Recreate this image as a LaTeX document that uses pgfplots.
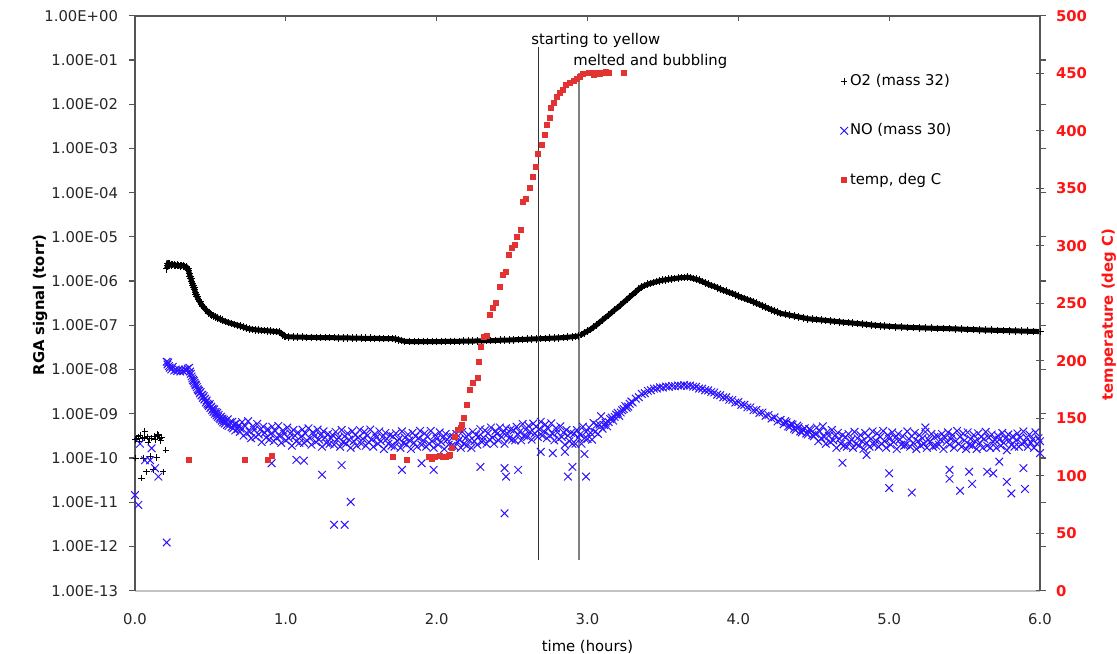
\documentclass[border=0pt]{standalone}
\usepackage{fontspec}
\setmainfont{DejaVu Sans}
\usepackage{pgfplots}
\pgfplotsset{compat=1.18}
\definecolor{nob}{RGB}{45,20,255}
\definecolor{tempr}{RGB}{226,50,50}
\definecolor{labr}{RGB}{255,20,20}
\definecolor{axg}{RGB}{85,85,85}
\definecolor{axlg}{RGB}{195,195,195}
\newcommand{\fs}{\fontsize{7.4}{9}\selectfont}

\begin{document}
\begin{tikzpicture}
\begin{axis}[
  scale only axis, width=452.5pt, height=287.5pt,
  at={(0,0)}, anchor=south west, clip=false,
  xmin=0, xmax=6, ymode=log, ymin=1e-13, ymax=1,
  axis line style={draw=none},
  xtick={0,1,2,3,4,5,6},
  xticklabels={0.0,1.0,2.0,3.0,4.0,5.0,6.0},
  x tick style={draw=none},
  xticklabel shift=5pt,
  ytick={1e-13,1e-12,1e-11,1e-10,1e-9,1e-8,1e-7,1e-6,1e-5,1e-4,1e-3,1e-2,1e-1,1},
  yticklabels={1.00E-13,1.00E-12,1.00E-11,1.00E-10,1.00E-09,1.00E-08,1.00E-07,1.00E-06,1.00E-05,1.00E-04,1.00E-03,1.00E-02,1.00E-01,1.00E+00},
  yminorticks=false,
  yticklabel shift=2pt,
  tick align=outside, major tick length=3pt,
  every tick/.style={axg, line width=0.6pt},
  tick label style={font=\fs, text=black!85},
  xlabel={time (hours)},
  xlabel style={font=\fs, at={(rel axis cs:0.5,-0.097)}, anchor=center},
  ylabel={RGA signal (torr)},
  ylabel style={font=\fs\bfseries, at={(rel axis cs:-0.105,0.497)}, anchor=center},
  legend style={at={(rel axis cs:0.779,0.902)}, anchor=north west, draw=none, fill=none,
    font=\fs, row sep=15.5pt, inner sep=0pt, nodes={inner sep=1pt}},
  legend cell align=left,
  legend image code/.code={\draw[#1] plot coordinates {(0pt,0pt)};},
]
% O2, mass 32: scattered start
\addplot[only marks, mark=+, mark size=1.6pt, black, mark options={line width=0.5pt}] coordinates {
(0.000,2.6e-10)(0.005,1.0e-10)(0.012,2.8e-10)(0.020,3.0e-10)(0.028,2.4e-10)(0.035,3.3e-10)
(0.044,3.5e-11)(0.050,2.7e-10)(0.055,1.0e-10)(0.060,2.9e-10)(0.066,4.0e-10)(0.077,4.9e-11)
(0.082,3.0e-10)(0.088,2.3e-10)(0.095,2.7e-10)(0.100,1.1e-10)(0.110,2.8e-10)(0.120,5.4e-11)
(0.127,3.1e-10)(0.133,2.6e-10)(0.144,1.02e-10)(0.150,3.4e-10)(0.155,3.2e-10)(0.165,2.8e-10)
(0.172,2.5e-10)(0.177,2.9e-10)(0.187,4.9e-11)(0.205,1.5e-10)};
\addlegendentry{O2 (mass 32)}
% O2 main trace
\addplot[forget plot, black, line width=2.5pt, mark=+, mark size=1.9pt, mark options={line width=0.5pt}] coordinates {
(0.210,1.9e-6)(0.215,2.2e-6)(0.220,2.5e-6)(0.230,2.4e-6)(0.240,2.3e-6)(0.250,2.35e-6)(0.260,2.3e-6)
(0.270,2.25e-6)(0.280,2.3e-6)(0.290,2.25e-6)(0.300,2.2e-6)(0.310,2.25e-6)(0.320,2.2e-6)(0.330,2.15e-6)
(0.340,2.1e-6)(0.350,1.9e-6)(0.355,1.7e-6)(0.360,1.5e-6)(0.365,1.3e-6)(0.370,1.15e-6)(0.375,1.0e-6)
(0.380,9.0e-7)(0.385,8.0e-7)(0.390,7.2e-7)(0.395,6.3e-7)(0.400,5.6e-7)(0.405,5.0e-7)(0.410,4.5e-7)
(0.420,3.9e-7)(0.430,3.4e-7)(0.440,3.0e-7)(0.450,2.7e-7)(0.460,2.45e-7)(0.470,2.25e-7)(0.480,2.05e-7)
(0.490,1.9e-7)(0.500,1.8e-7)(0.510,1.72e-7)(0.520,1.65e-7)(0.535,1.55e-7)(0.550,1.45e-7)(0.565,1.37e-7)
(0.580,1.3e-7)(0.600,1.22e-7)(0.620,1.15e-7)(0.640,1.1e-7)(0.660,1.05e-7)(0.680,1.0e-7)(0.700,9.6e-8)
(0.720,9.1e-8)(0.740,8.6e-8)(0.760,8.3e-8)(0.780,8.1e-8)(0.800,7.9e-8)(0.820,7.8e-8)(0.840,7.7e-8)
(0.860,7.6e-8)(0.880,7.5e-8)(0.900,7.4e-8)(0.920,7.3e-8)(0.940,7.2e-8)(0.960,7.0e-8)(0.970,6.6e-8)
(0.980,6.1e-8)(0.990,5.8e-8)(1.000,5.6e-8)(1.02,5.5e-8)(1.05,5.45e-8)(1.08,5.4e-8)(1.11,5.4e-8)
(1.14,5.35e-8)(1.17,5.35e-8)(1.20,5.3e-8)(1.23,5.3e-8)(1.26,5.3e-8)(1.29,5.25e-8)(1.32,5.25e-8)
(1.35,5.2e-8)(1.38,5.2e-8)(1.41,5.2e-8)(1.44,5.15e-8)(1.47,5.15e-8)(1.50,5.1e-8)(1.53,5.1e-8)
(1.56,5.1e-8)(1.59,5.05e-8)(1.62,5.05e-8)(1.65,5.0e-8)(1.68,5.0e-8)(1.71,5.0e-8)(1.73,4.9e-8)
(1.75,4.7e-8)(1.77,4.5e-8)(1.79,4.35e-8)(1.82,4.3e-8)(1.85,4.3e-8)(1.88,4.3e-8)(1.91,4.3e-8)
(1.94,4.3e-8)(1.97,4.3e-8)(2.00,4.3e-8)(2.03,4.3e-8)(2.06,4.35e-8)(2.09,4.35e-8)(2.12,4.35e-8)
(2.15,4.35e-8)(2.18,4.4e-8)(2.21,4.4e-8)(2.24,4.4e-8)(2.27,4.45e-8)(2.30,4.45e-8)(2.33,4.5e-8)
(2.36,4.5e-8)(2.39,4.55e-8)(2.42,4.6e-8)(2.45,4.6e-8)(2.48,4.65e-8)(2.51,4.7e-8)(2.54,4.75e-8)
(2.57,4.8e-8)(2.60,4.85e-8)(2.63,4.9e-8)(2.66,4.95e-8)(2.69,5.0e-8)(2.72,5.05e-8)(2.75,5.1e-8)
(2.78,5.15e-8)(2.81,5.2e-8)(2.84,5.3e-8)(2.87,5.4e-8)(2.90,5.5e-8)(2.92,5.6e-8)(2.94,5.75e-8)
(2.96,6.2e-8)(2.98,6.8e-8)(3.00,7.4e-8)(3.02,8.1e-8)(3.04,9.1e-8)(3.06,1.02e-7)(3.08,1.17e-7)
(3.10,1.32e-7)(3.12,1.51e-7)(3.14,1.70e-7)(3.16,1.95e-7)(3.18,2.24e-7)(3.20,2.51e-7)(3.22,2.88e-7)
(3.24,3.31e-7)(3.26,3.80e-7)(3.28,4.37e-7)(3.30,5.01e-7)(3.32,5.75e-7)(3.34,6.61e-7)(3.36,7.41e-7)
(3.38,7.94e-7)(3.40,8.51e-7)(3.42,8.91e-7)(3.44,9.33e-7)(3.46,9.77e-7)(3.48,1.02e-6)(3.50,1.05e-6)
(3.52,1.07e-6)(3.54,1.10e-6)(3.56,1.12e-6)(3.58,1.15e-6)(3.60,1.17e-6)(3.62,1.20e-6)(3.64,1.20e-6)
(3.66,1.23e-6)(3.68,1.20e-6)(3.70,1.15e-6)(3.72,1.10e-6)(3.74,1.05e-6)(3.76,9.77e-7)(3.78,9.12e-7)
(3.80,8.51e-7)(3.82,7.94e-7)(3.84,7.59e-7)(3.86,7.08e-7)(3.88,6.61e-7)(3.90,6.17e-7)(3.92,5.89e-7)
(3.94,5.50e-7)(3.96,5.25e-7)(3.98,4.90e-7)(4.00,4.57e-7)(4.02,4.27e-7)(4.04,4.07e-7)(4.06,3.80e-7)
(4.08,3.63e-7)(4.10,3.39e-7)(4.12,3.16e-7)(4.14,2.95e-7)(4.16,2.75e-7)(4.18,2.57e-7)(4.20,2.40e-7)
(4.22,2.24e-7)(4.24,2.09e-7)(4.26,2.00e-7)(4.28,1.86e-7)(4.31,1.78e-7)(4.34,1.70e-7)(4.37,1.62e-7)
(4.40,1.55e-7)(4.43,1.48e-7)(4.46,1.41e-7)(4.49,1.38e-7)(4.52,1.35e-7)(4.55,1.32e-7)(4.58,1.29e-7)
(4.61,1.26e-7)(4.64,1.23e-7)(4.67,1.20e-7)(4.70,1.17e-7)(4.73,1.15e-7)(4.76,1.12e-7)(4.79,1.10e-7)
(4.82,1.07e-7)(4.85,1.05e-7)(4.88,1.02e-7)(4.91,1.00e-7)(4.94,9.8e-8)(4.97,9.6e-8)(5.00,9.5e-8)
(5.04,9.3e-8)(5.08,9.2e-8)(5.12,9.0e-8)(5.16,8.9e-8)(5.20,8.8e-8)(5.24,8.7e-8)(5.28,8.6e-8)
(5.32,8.55e-8)(5.36,8.5e-8)(5.40,8.4e-8)(5.44,8.3e-8)(5.48,8.2e-8)(5.52,8.1e-8)(5.56,8.0e-8)
(5.60,7.9e-8)(5.64,7.8e-8)(5.68,7.75e-8)(5.72,7.7e-8)(5.76,7.6e-8)(5.80,7.55e-8)(5.84,7.5e-8)
(5.88,7.4e-8)(5.92,7.35e-8)(5.96,7.3e-8)(6.00,7.2e-8)};
% NO, mass 30
\addplot[only marks, mark=x, mark size=2.7pt, nob, mark options={line width=0.5pt}] coordinates {
(0.210,1.5e-8)(0.215,1.3e-8)(0.220,1.45e-8)(0.225,1.2e-8)(0.230,1.1e-8)(0.240,1.0e-8)(0.250,1.15e-8)
(0.260,9.5e-9)(0.270,1.0e-8)(0.280,9.3e-9)(0.290,1.0e-8)(0.300,9.0e-9)(0.310,9.8e-9)(0.320,9.2e-9)
(0.330,1.0e-8)(0.340,9.6e-9)(0.350,1.05e-8)(0.360,1.1e-8)(0.365,9.0e-9)(0.370,8.0e-9)(0.375,7.0e-9)
(0.380,6.3e-9)(0.385,5.8e-9)(0.390,5.5e-9)(0.395,5.0e-9)(0.400,4.6e-9)(0.405,4.4e-9)(0.410,4.0e-9)
(0.415,3.6e-9)(0.420,3.4e-9)(0.425,3.3e-9)(0.430,2.9e-9)(0.435,3.1e-9)(0.440,2.6e-9)(0.445,2.7e-9)
(0.450,2.3e-9)(0.455,2.5e-9)(0.460,2.1e-9)(0.465,2.2e-9)(0.470,1.8e-9)(0.475,2.0e-9)(0.480,1.7e-9)
(0.485,1.6e-9)(0.490,1.5e-9)(0.495,1.65e-9)(0.500,1.35e-9)(0.505,1.45e-9)(0.510,1.2e-9)(0.515,1.3e-9)
(0.520,1.1e-9)(0.525,1.25e-9)(0.530,1.0e-9)(0.535,1.1e-9)(0.540,9.2e-10)(0.545,1.05e-9)(0.550,8.5e-10)
(0.555,9.5e-10)(0.560,8.0e-10)(0.565,7.5e-10)(0.570,8.6e-10)(0.575,7.0e-10)(0.580,7.8e-10)(0.585,6.4e-10)
(0.590,7.3e-10)(0.595,6.0e-10)(0.600,6.8e-10)(0.610,5.6e-10)(0.615,7.5e-10)(0.620,5.3e-10)(0.630,6.4e-10)
(0.640,5.0e-10)(0.645,6.6e-10)(0.650,4.7e-10)(0.660,5.8e-10)(0.665,4.2e-10)(0.670,6.0e-10)(0.680,4.5e-10)
(0.690,5.4e-10)(0.695,3.9e-10)
(0.70,4.6e-10)(0.71,6.5e-10)(0.72,3.2e-10)(0.73,5.3e-10)(0.74,3.7e-10)(0.75,6.8e-10)(0.76,3.9e-10)
(0.77,2.8e-10)(0.78,5.2e-10)(0.79,4.3e-10)(0.80,3.0e-10)(0.81,5.9e-10)(0.82,3.4e-10)(0.83,4.4e-10)
(0.84,2.3e-10)(0.85,5.1e-10)(0.86,3.7e-10)(0.87,2.9e-10)(0.88,4.5e-10)(0.89,2.6e-10)(0.90,3.5e-10)
(0.91,5.1e-10)(0.92,2.4e-10)(0.93,4.1e-10)(0.94,2.9e-10)(0.95,5.3e-10)(0.96,3.1e-10)(0.97,2.2e-10)
(0.98,4.2e-10)(0.99,3.5e-10)(1.00,2.5e-10)(1.01,4.9e-10)(1.02,2.8e-10)(1.03,3.6e-10)(1.04,1.9e-10)
(1.05,4.3e-10)(1.06,3.2e-10)(1.07,2.4e-10)(1.08,3.8e-10)(1.09,2.2e-10)(1.10,3.0e-10)(1.11,4.4e-10)
(1.12,2.2e-10)(1.13,3.6e-10)(1.14,2.5e-10)(1.15,4.7e-10)(1.16,2.8e-10)(1.17,2.0e-10)(1.18,3.8e-10)
(1.19,3.1e-10)(1.20,2.3e-10)(1.21,4.4e-10)(1.22,2.6e-10)(1.23,3.3e-10)(1.24,1.8e-10)(1.25,4.0e-10)
(1.26,2.9e-10)(1.27,2.2e-10)(1.28,3.5e-10)(1.29,2.1e-10)(1.30,2.8e-10)(1.31,3.3e-10)(1.32,2.0e-10)
(1.33,3.9e-10)(1.34,2.6e-10)(1.35,2.9e-10)(1.36,1.8e-10)(1.37,4.3e-10)(1.38,2.3e-10)(1.39,3.1e-10)
(1.40,2.1e-10)(1.41,3.6e-10)(1.42,2.6e-10)(1.43,1.7e-10)(1.44,4.0e-10)(1.45,2.4e-10)(1.46,3.3e-10)
(1.47,1.9e-10)(1.48,2.9e-10)(1.49,4.3e-10)(1.50,2.1e-10)(1.51,2.7e-10)(1.52,3.9e-10)(1.53,1.9e-10)
(1.54,3.2e-10)(1.55,2.3e-10)(1.56,4.4e-10)(1.57,2.6e-10)(1.58,1.8e-10)(1.59,3.5e-10)(1.60,2.9e-10)
(1.61,2.1e-10)(1.62,4.0e-10)(1.63,2.4e-10)(1.64,3.0e-10)(1.65,1.6e-10)(1.66,3.7e-10)(1.67,2.7e-10)
(1.68,2.1e-10)(1.69,3.3e-10)(1.70,1.9e-10)(1.71,3.1e-10)(1.72,1.8e-10)(1.73,3.6e-10)(1.74,2.4e-10)
(1.75,2.7e-10)(1.76,1.7e-10)(1.77,4.0e-10)(1.78,2.2e-10)(1.79,2.9e-10)(1.80,2.0e-10)(1.81,3.4e-10)
(1.82,2.5e-10)(1.83,1.6e-10)(1.84,3.7e-10)(1.85,2.2e-10)(1.86,3.1e-10)(1.87,1.8e-10)(1.88,2.8e-10)
(1.89,4.1e-10)(1.90,2.0e-10)(1.91,2.5e-10)(1.92,3.6e-10)(1.93,1.8e-10)(1.94,3.0e-10)(1.95,2.1e-10)
(1.96,4.1e-10)(1.97,2.4e-10)(1.98,1.7e-10)(1.99,3.3e-10)(2.00,2.7e-10)(2.01,2.0e-10)(2.02,3.8e-10)
(2.03,2.3e-10)(2.04,2.9e-10)(2.05,1.6e-10)(2.06,3.5e-10)(2.07,2.6e-10)(2.08,2.0e-10)(2.09,3.1e-10)
(2.10,1.9e-10)(2.11,3.0e-10)(2.12,1.8e-10)(2.13,3.5e-10)(2.14,2.3e-10)(2.15,2.6e-10)(2.16,1.7e-10)
(2.17,3.9e-10)(2.18,2.1e-10)(2.19,2.8e-10)(2.20,1.9e-10)(2.21,3.4e-10)(2.22,2.5e-10)(2.23,1.7e-10)
(2.24,3.9e-10)(2.25,2.4e-10)(2.26,3.3e-10)(2.27,2.0e-10)(2.28,3.1e-10)(2.29,4.5e-10)(2.30,2.3e-10)
(2.31,2.9e-10)(2.32,4.2e-10)(2.33,2.1e-10)(2.34,3.6e-10)(2.35,2.6e-10)(2.36,4.9e-10)(2.37,2.9e-10)
(2.38,2.1e-10)(2.39,4.1e-10)(2.40,3.5e-10)(2.41,2.5e-10)(2.42,4.9e-10)(2.43,3.0e-10)(2.44,3.8e-10)
(2.45,2.1e-10)(2.46,4.7e-10)(2.47,3.5e-10)(2.48,2.8e-10)(2.49,4.4e-10)(2.50,2.6e-10)(2.51,4.2e-10)
(2.52,2.5e-10)(2.53,5.1e-10)(2.54,3.4e-10)(2.55,3.9e-10)(2.56,2.5e-10)(2.57,5.9e-10)(2.58,3.2e-10)
(2.59,4.4e-10)(2.60,3.0e-10)(2.61,5.3e-10)(2.62,3.9e-10)(2.63,2.6e-10)(2.64,6.0e-10)(2.65,3.6e-10)
(2.66,5.1e-10)(2.67,3.0e-10)(2.68,4.5e-10)(2.69,6.6e-10)(2.70,3.2e-10)(2.71,4.0e-10)(2.72,5.7e-10)
(2.73,2.8e-10)(2.74,4.6e-10)(2.75,3.2e-10)(2.76,6.1e-10)(2.77,3.5e-10)(2.78,2.5e-10)(2.79,4.7e-10)
(2.80,3.8e-10)(2.81,2.7e-10)(2.82,5.2e-10)(2.83,3.0e-10)(2.84,3.8e-10)(2.85,2.0e-10)(2.86,4.3e-10)
(2.87,3.2e-10)(2.88,2.4e-10)(2.89,3.7e-10)(2.90,2.1e-10)(2.91,3.5e-10)(2.92,2.1e-10)(2.93,4.3e-10)
(2.94,2.9e-10)(2.95,3.4e-10)(2.96,2.1e-10)(2.97,5.1e-10)(2.98,2.8e-10)(2.99,3.9e-10)(3.00,2.7e-10)
(3.01,4.9e-10)(3.02,3.7e-10)(3.03,2.6e-10)(3.04,6.2e-10)(3.05,3.9e-10)(3.06,5.6e-10)(3.07,3.5e-10)
(3.08,5.7e-10)(3.09,8.8e-10)(3.10,4.6e-10)
(3.11,5.6e-10)(3.12,6.3e-10)(3.13,5.2e-10)(3.14,6.5e-10)(3.15,7.6e-10)(3.16,8.2e-10)(3.17,7.0e-10)
(3.18,8.5e-10)(3.19,9.6e-10)(3.20,1.05e-9)(3.21,9.0e-10)(3.22,1.07e-9)(3.23,1.2e-9)(3.24,1.28e-9)
(3.25,1.5e-9)(3.26,1.36e-9)(3.27,1.45e-9)(3.28,1.68e-9)(3.29,1.9e-9)(3.30,1.80e-9)(3.32,2.2e-9)
(3.34,2.38e-9)(3.36,2.82e-9)(3.38,2.92e-9)(3.40,3.3e-9)(3.42,3.4e-9)(3.44,3.7e-9)(3.46,3.72e-9)
(3.48,3.98e-9)(3.50,3.92e-9)(3.52,4.15e-9)(3.54,4.08e-9)(3.56,4.25e-9)(3.58,4.2e-9)(3.60,4.35e-9)
(3.62,4.3e-9)(3.64,4.45e-9)(3.66,4.3e-9)(3.68,4.35e-9)(3.70,4.1e-9)(3.72,4.08e-9)(3.74,3.72e-9)
(3.76,3.7e-9)(3.78,3.4e-9)(3.80,3.38e-9)(3.82,3.1e-9)(3.84,3.02e-9)(3.86,2.7e-9)(3.88,2.63e-9)
(3.90,2.35e-9)(3.92,2.35e-9)(3.94,2.08e-9)(3.96,2.06e-9)(3.98,1.8e-9)(4.00,1.84e-9)(4.02,1.6e-9)
(4.04,1.6e-9)(4.06,1.4e-9)(4.08,1.4e-9)(4.10,1.2e-9)(4.12,1.22e-9)(4.14,1.05e-9)(4.16,1.07e-9)
(4.18,9.0e-10)(4.20,9.4e-10)(4.22,7.8e-10)(4.24,8.3e-10)(4.26,6.7e-10)(4.28,7.3e-10)(4.30,5.8e-10)
(4.31,6.8e-10)(4.32,6.4e-10)(4.33,5.2e-10)(4.34,5.0e-10)(4.35,5.9e-10)(4.36,5.7e-10)(4.37,4.6e-10)
(4.38,4.3e-10)(4.39,5.4e-10)(4.40,5.0e-10)(4.41,4.0e-10)(4.42,3.8e-10)(4.43,4.4e-10)(4.44,4.7e-10)
(4.45,3.6e-10)(4.46,3.4e-10)(4.47,4.5e-10)(4.48,4.3e-10)(4.49,3.3e-10)(4.50,3.1e-10)
(4.51,3.5e-10)(4.52,4.9e-10)(4.53,2.4e-10)(4.54,4.0e-10)(4.55,2.8e-10)(4.56,5.2e-10)(4.57,3.0e-10)
(4.58,2.1e-10)(4.59,3.9e-10)(4.60,3.2e-10)(4.61,2.3e-10)(4.62,4.3e-10)(4.63,2.5e-10)(4.64,3.2e-10)
(4.65,1.7e-10)(4.66,3.7e-10)(4.67,2.7e-10)(4.68,2.1e-10)(4.69,3.3e-10)(4.70,1.9e-10)(4.71,3.0e-10)
(4.72,1.8e-10)(4.73,3.5e-10)(4.74,2.3e-10)(4.75,2.6e-10)(4.76,1.7e-10)(4.77,3.9e-10)(4.78,2.1e-10)
(4.79,2.8e-10)(4.80,1.9e-10)(4.81,3.3e-10)(4.82,2.4e-10)(4.83,1.6e-10)(4.84,3.7e-10)(4.85,2.2e-10)
(4.86,3.1e-10)(4.87,1.8e-10)(4.88,2.7e-10)(4.89,4.0e-10)(4.90,2.0e-10)(4.91,2.5e-10)(4.92,3.6e-10)
(4.93,1.8e-10)(4.94,3.0e-10)(4.95,2.1e-10)(4.96,4.1e-10)(4.97,2.4e-10)(4.98,1.7e-10)(4.99,3.3e-10)
(5.00,2.7e-10)(5.01,2.0e-10)(5.02,3.8e-10)(5.03,2.3e-10)(5.04,2.9e-10)(5.05,1.6e-10)(5.06,3.5e-10)
(5.07,2.6e-10)(5.08,2.0e-10)(5.09,3.1e-10)(5.10,1.9e-10)(5.11,2.0e-10)(5.12,4.0e-10)(5.13,2.7e-10)
(5.14,1.8e-10)(5.15,3.1e-10)(5.16,2.2e-10)(5.17,3.7e-10)(5.18,1.6e-10)(5.19,2.4e-10)(5.20,3.3e-10)
(5.21,1.9e-10)(5.22,2.8e-10)(5.23,2.1e-10)(5.24,3.9e-10)(5.25,1.7e-10)(5.26,2.6e-10)(5.27,2.3e-10)
(5.28,3.5e-10)(5.29,1.8e-10)(5.30,3.0e-10)(5.31,1.9e-10)(5.32,3.1e-10)(5.33,2.0e-10)(5.34,2.6e-10)
(5.35,3.5e-10)(5.36,1.6e-10)(5.37,2.9e-10)(5.38,2.3e-10)(5.39,3.8e-10)(5.40,2.0e-10)(5.41,2.7e-10)
(5.42,3.3e-10)(5.43,1.7e-10)(5.44,2.4e-10)(5.45,4.1e-10)(5.46,2.1e-10)(5.47,3.0e-10)(5.48,1.8e-10)
(5.49,3.6e-10)(5.50,2.5e-10)(5.51,1.6e-10)(5.52,3.8e-10)(5.53,2.0e-10)(5.54,2.7e-10)(5.55,1.9e-10)
(5.56,3.3e-10)(5.57,2.4e-10)(5.58,1.6e-10)(5.59,3.6e-10)(5.60,2.2e-10)(5.61,3.0e-10)(5.62,1.7e-10)
(5.63,2.7e-10)(5.64,3.9e-10)(5.65,1.9e-10)(5.66,2.9e-10)(5.67,1.7e-10)(5.68,3.4e-10)(5.69,2.3e-10)
(5.70,2.6e-10)(5.71,1.7e-10)(5.72,3.2e-10)(5.73,2.6e-10)(5.74,1.9e-10)(5.75,3.7e-10)(5.76,2.2e-10)
(5.77,2.8e-10)(5.78,1.5e-10)(5.79,3.4e-10)(5.80,2.5e-10)(5.81,2.0e-10)(5.82,3.1e-10)(5.83,1.8e-10)
(5.84,2.5e-10)(5.85,3.6e-10)(5.86,1.8e-10)(5.87,2.9e-10)(5.88,2.1e-10)(5.89,4.0e-10)(5.90,2.3e-10)
(5.91,2.9e-10)(5.92,1.8e-10)(5.93,3.4e-10)(5.94,2.2e-10)(5.95,2.6e-10)(5.96,1.7e-10)(5.97,3.8e-10)
(5.98,2.1e-10)(5.99,2.8e-10)(6.00,2.4e-10)};
\addlegendentry{NO (mass 30)}
% NO: early points and outliers
\addplot[forget plot, only marks, mark=x, mark size=2.7pt, nob, mark options={line width=0.5pt}] coordinates {
(0.000,1.45e-11)(0.022,8.7e-12)(0.033,2.1e-10)(0.066,8.9e-11)(0.100,8.9e-11)(0.110,1.66e-10)
(0.133,5.9e-11)(0.155,3.8e-11)(0.210,1.23e-12)
(0.906,7.6e-11)(1.07,9.1e-11)(1.12,8.7e-11)(1.24,4.2e-11)(1.32,3.1e-12)(1.39,3.1e-12)(1.43,1.02e-11)
(1.37,6.9e-11)(1.77,5.4e-11)(1.90,7.6e-11)(1.98,5.4e-11)(2.29,6.3e-11)
(2.45,5.6e-12)(2.46,3.8e-11)(2.45,5.9e-11)(2.54,5.4e-11)(2.69,1.38e-10)(2.77,1.29e-10)(2.85,1.38e-10)
(2.87,3.8e-11)(2.90,6.3e-11)(2.99,3.8e-11)(2.98,1.23e-10)
(4.69,7.8e-11)(4.85,1.17e-10)(5.00,4.5e-11)(5.00,2.1e-11)(5.15,1.66e-11)(5.24,4.9e-10)(5.40,3.4e-11)
(5.40,5.4e-11)(5.47,1.82e-11)(5.53,4.9e-11)(5.55,2.6e-11)(5.65,4.9e-11)(5.69,4.5e-11)(5.73,8.3e-11)
(5.78,2.9e-11)(5.81,1.58e-11)(5.89,5.9e-11)(5.90,2.0e-11)(6.00,1.29e-10)};
\addlegendimage{only marks, mark=square*, mark size=1.2pt, tempr}
\addlegendentry{temp, deg C}
% frame
\draw[axlg, line width=1pt] (rel axis cs:0,0) -- (rel axis cs:1,0);
\draw[axg, line width=1pt] (rel axis cs:0,0) -- (rel axis cs:0,1) -- (rel axis cs:1,1) -- (rel axis cs:1,0);
\pgfplotsinvokeforeach{1,2,3,4,5}{\draw[axg, line width=0.6pt] (axis cs:#1,1) -- ++(0pt,-2.5pt);}
% event markers
\draw[black!80, line width=0.7pt] (axis cs:2.674,4.9e-13) -- (axis cs:2.674,0.2);
\draw[black!50, line width=0.9pt] (axis cs:2.944,4.9e-13) -- (axis cs:2.944,0.05);
\node[anchor=west, font=\fs, inner sep=0pt] at (axis cs:2.625,0.28) {starting to yellow};
\node[anchor=west, font=\fs, inner sep=0pt] at (axis cs:2.904,0.091) {melted and bubbling};
\end{axis}

\begin{axis}[
  scale only axis, width=452.5pt, height=287.5pt,
  at={(0,0)}, anchor=south west, clip=false,
  xmin=0, xmax=6, ymin=0, ymax=500,
  axis x line=none, axis y line*=right, axis line style={draw=none},
  ytick={0,50,100,150,200,250,300,350,400,450,500},
  yticklabels={0,50,100,150,200,250,300,350,400,450,500},
  tick align=center, major tick length=4pt,
  every tick/.style={axg, line width=0.6pt},
  yticklabel style={font=\fs\bfseries, text=labr},
  yticklabel shift=2.5pt,
  ylabel={temperature (deg C)},
  ylabel style={font=\fs\bfseries, text=labr, at={(rel axis cs:1.076,0.48)}, anchor=center},
]
\addplot[only marks, mark=square*, mark size=1.25pt, tempr] coordinates {
(0.36,114)(0.73,114)(0.88,114)(0.91,117)(1.71,116)(1.80,114)(1.95,116)(1.97,115)(1.99,116)
(2.02,117)(2.04,116)(2.06,116.5)(2.08,117)(2.09,118)(2.10,123.8)(2.12,133.9)(2.14,139.7)(2.16,142)
(2.17,144)(2.18,149.9)(2.20,161.5)(2.22,174.5)(2.24,180.3)(2.27,184.7)(2.28,199)(2.29,212)(2.31,221)
(2.33,222)(2.35,239.7)(2.37,245.6)(2.39,250)(2.42,264)(2.44,274.5)(2.46,277.4)(2.48,292)(2.50,297.7)
(2.52,300.6)(2.53,307.8)(2.56,313.7)(2.57,338)(2.59,341)(2.62,350)(2.64,360)(2.66,368.7)(2.67,380)
(2.70,387.6)(2.72,396)(2.73,405)(2.75,410.8)(2.76,419.5)(2.78,423.8)(2.80,429.6)(2.82,432.5)(2.84,435.4)
(2.86,439.7)(2.88,441.7)(2.91,443.5)(2.93,444.7)(2.95,447)(2.97,449.3)(3.01,449.9)(3.03,450.5)
(3.04,448.4)(3.06,449.9)(3.08,449.3)(3.10,450.4)(3.12,451)(3.14,450.4)(3.24,449.9)};
\end{axis}
\pgfresetboundingbox
\path[use as bounding box] (-67.5pt,-31.15pt) rectangle (491pt,295.35pt);
\end{tikzpicture}
\end{document}
